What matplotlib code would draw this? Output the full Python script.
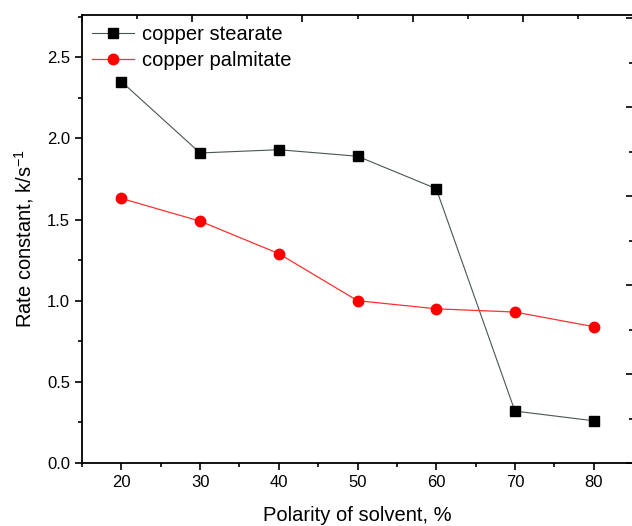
import matplotlib
matplotlib.use('Agg')
import matplotlib.pyplot as plt
from matplotlib.ticker import MultipleLocator, NullFormatter

plt.rcParams['font.family'] = ['Liberation Sans', 'DejaVu Sans']

polarity = [20, 30, 40, 50, 60, 70, 80]
stearate = [2.35, 1.91, 1.93, 1.89, 1.69, 0.32, 0.26]
palmitate = [1.63, 1.49, 1.29, 1.00, 0.95, 0.93, 0.84]

fig = plt.figure(figsize=(6.32, 5.26), dpi=100)
pos = [82/632, 63/526, 551/632, 448/526]
ax = fig.add_axes(pos)

ax.plot(polarity, stearate, '-', color='#4a5654', lw=0.8,
        marker='s', ms=6.5, mfc='black', mec='black', label='copper stearate')
ax.plot(polarity, palmitate, '-', color='#ff3030', lw=0.9,
        marker='o', ms=7.5, mfc='#ff0000', mec='#ff0000', label='copper palmitate')

ax.set_xlim(15, 85)
ax.set_ylim(0, 2.76)
ax.xaxis.set_major_locator(MultipleLocator(10))
ax.xaxis.set_minor_locator(MultipleLocator(5))
ax.yaxis.set_major_locator(MultipleLocator(0.5))
ax.yaxis.set_minor_locator(MultipleLocator(0.25))
ax.tick_params(which='both', direction='out', top=False, right=False, width=1.2, labelsize=12)
ax.tick_params(which='major', length=5)
ax.tick_params(which='minor', length=3)
for s in ax.spines.values():
    s.set_linewidth(1.3)

ax.set_xlabel('Polarity of solvent, %', fontsize=14.5, labelpad=12)
ax.set_ylabel('Rate constant, k/s$^{\\mathregular{-1}}$', fontsize=14.5, labelpad=8)

# second layer axes (top / right), unlabeled ticks pointing inward
ax2 = fig.add_axes(pos, frameon=False)
ax2.set_xlim(0, 10)
ax2.set_ylim(0, 10.07)
for axis in (ax2.xaxis, ax2.yaxis):
    axis.set_major_locator(MultipleLocator(2))
    axis.set_minor_locator(MultipleLocator(1))
    axis.set_major_formatter(NullFormatter())
ax2.xaxis.set_ticks_position('top')
ax2.yaxis.set_ticks_position('right')
ax2.tick_params(which='both', direction='in', labeltop=False, labelright=False,
                labelbottom=False, labelleft=False, width=1.2)
ax2.tick_params(which='major', length=5)
ax2.tick_params(which='minor', length=3)

ax.legend(loc='upper left', frameon=False, fontsize=14.5, handlelength=2.1,
          handletextpad=0.4, borderaxespad=0.1, labelspacing=0.35)

fig.savefig('out.png', dpi=100)
